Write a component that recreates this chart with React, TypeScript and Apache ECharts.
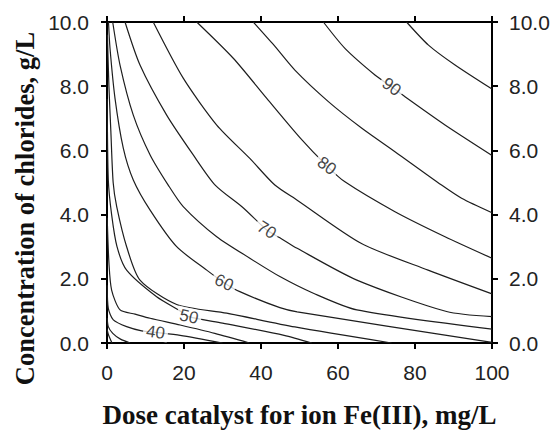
import React, { useEffect, useRef } from "react";
import * as echarts from "echarts";

// Contour lines (x = dose Fe(III) mg/L, y = chlorides g/L), one per level
const levels = [95, 90, 85, 80, 75, 70, 65, 60, 55, 50, 45, 40, 35, 30];
const c95 = [[77.8, 10], [83.5, 9.28], [90.4, 8.66], [100, 7.91]];
const c90 = [[56.2, 10], [61.8, 9.18], [69.6, 8.35], [73.9, 7.98], [77.4, 7.67], [87.8, 6.79], [100, 5.84]];
const c85 = [[38.0, 10], [43.2, 9.3], [48.8, 8.5], [57.5, 7.52], [66.2, 6.69], [74.8, 5.96], [86.9, 4.92], [92.1, 4.51], [100, 4.06]];
const c80 = [[23.3, 10], [32.8, 8.87], [41.5, 7.62], [50.1, 6.4], [57.1, 5.52], [61.8, 5.02], [74.8, 4.09], [87.8, 3.31], [100, 2.64]];
const c75 = [[12.0, 10], [19.8, 8.25], [28.5, 6.79], [37.1, 5.75], [43.6, 4.92], [49.4, 4.45], [66.1, 3.1], [83.4, 2.27], [100, 1.53]];
const c70 = [[4.68, 10], [8.57, 8.66], [15.5, 7.1], [22.4, 5.86], [28.1, 4.92], [35.5, 4.2], [41.5, 3.52], [44.9, 3.28], [49.4, 2.95], [64.9, 1.96], [88.2, 0.98], [100, 0.82]];
const c65 = [[1.48, 10], [3.38, 8.66], [6.83, 7.1], [11.2, 5.86], [15.9, 4.92], [19.8, 4.25], [28.5, 3.31], [37.1, 2.64], [44.9, 2.07], [53.6, 1.55], [64.9, 1.03], [100, 0.43]];
const c60 = [[0.39, 10], [0.78, 9.18], [2.08, 7.62], [4.23, 6.07], [6.83, 5.08], [11.2, 4.14], [18.1, 3.0], [25.9, 2.27], [30.4, 1.88], [34.5, 1.6], [44.9, 1.1], [49.4, 0.97], [100, 0.02]];
const c55 = [[0.1, 9.6], [0.5, 8.0], [1.0, 6.6], [1.6, 5.0], [2.52, 4.25], [5.1, 3.0], [8.57, 1.96], [18.1, 1.2], [31.1, 0.93], [48.8, 0.5], [73.9, 0]];
const c50 = [[0.05, 7.6], [0.34, 5.08], [1.2, 4.0], [2.6, 3.0], [5.1, 2.27], [12.9, 1.44], [19.0, 1.0], [21.3, 0.82], [30, 0.62], [46, 0.24], [53.2, 0]];
const c45 = [[0.05, 3.9], [0.5, 2.5], [1.2, 1.65], [3.4, 1.03], [7.3, 0.9], [11.2, 0.77], [19, 0.56], [28, 0.3], [37, 0]];
const c40 = [[0.05, 1.8], [0.34, 1.08], [1.64, 0.72], [5.1, 0.51], [9, 0.38], [12.6, 0.33], [19, 0.24], [30, 0]];
const c35 = [[0.05, 0.78], [0.34, 0.51], [1.5, 0.3], [3.5, 0.12], [6, 0]];
const c30 = [[0.05, 0.42], [0.4, 0.25], [1.3, 0]];
const contours = [c95, c90, c85, c80, c75, c70, c65, c60, c55, c50, c45, c40, c35, c30];

// Contour labels
const labelTexts = ["90", "80", "70", "60", "50", "40"];
const labelX = [73.9, 57.1, 41.5, 30.4, 21.3, 12.6];
const labelY = [7.98, 5.52, 3.52, 1.88, 0.82, 0.33];

// Axis ticks
const xTicks = [0, 20, 40, 60, 80, 100];
const yTicks = [0, 2, 4, 6, 8, 10];

const labelRotate = [-36, -36, -33, -24, -13, -8];

export default function App() {
  const ref = useRef<HTMLDivElement>(null);
  useEffect(() => {
    const chart = echarts.init(ref.current!, null, { renderer: "svg" });
    const axisLineStyle = { color: "#000", width: 2 };
    const tickFont = { fontFamily: "Liberation Sans", fontSize: 21, color: "#222" };
    const tickStyle = { show: true, inside: false, length: 6, lineStyle: { color: "#000", width: 2 } };
    const xAxisBase = {
      type: "value" as const,
      min: xTicks[0],
      max: xTicks[xTicks.length - 1],
      interval: xTicks[1] - xTicks[0],
      splitLine: { show: false },
      axisLine: { show: true, onZero: false, lineStyle: axisLineStyle },
      axisTick: tickStyle,
    };
    const yAxisBase = {
      type: "value" as const,
      min: yTicks[0],
      max: yTicks[yTicks.length - 1],
      interval: yTicks[1] - yTicks[0],
      splitLine: { show: false },
      axisLine: { show: true, onZero: false, lineStyle: axisLineStyle },
      axisTick: tickStyle,
    };
    const lineSeries = contours.map((pts, i) => ({
      type: "line" as const,
      name: String(levels[i]),
      data: pts,
      showSymbol: false,
      symbol: "none",
      smooth: 0.25,
      lineStyle: { color: "#1e1e1e", width: 1.2 },
      z: 2,
      silent: true,
    }));
    const labelSeries = labelTexts.map((t, i) => ({
      type: "scatter" as const,
      data: [[labelX[i], labelY[i]]],
      symbolSize: 0,
      z: 5,
      silent: true,
      label: {
        show: true,
        position: "inside" as const,
        formatter: t,
        rotate: labelRotate[i],
        fontFamily: "Liberation Sans",
        fontSize: 17,
        color: "#111",
        backgroundColor: "#fff",
        padding: [0, 3],
      },
    }));
    chart.setOption({
      animation: false,
      backgroundColor: "#fff",
      grid: { left: 107, right: 63, top: 22, bottom: 89, containLabel: false },
      xAxis: [
        {
          ...xAxisBase,
          position: "bottom",
          axisLabel: { ...tickFont, margin: 19 },
        },
        {
          ...xAxisBase,
          position: "top",
          axisLabel: { show: false },
        },
      ],
      yAxis: [
        {
          ...yAxisBase,
          position: "left",
          axisLabel: { ...tickFont, margin: 18, formatter: (v: number) => v.toFixed(1) },
        },
        {
          ...yAxisBase,
          position: "right",
          axisLabel: { ...tickFont, margin: 17, formatter: (v: number) => v.toFixed(1) },
        },
      ],
      graphic: [
        {
          type: "text",
          x: 299.5,
          y: 415,
          style: {
            text: "Dose catalyst for ion Fe(III), mg/L",
            fontFamily: "Liberation Serif",
            fontWeight: "bold",
            fontSize: 27,
            fill: "#111",
            textAlign: "center",
            textVerticalAlign: "middle",
          },
        },
        {
          type: "text",
          x: 25,
          y: 208.5,
          rotation: Math.PI / 2,
          style: {
            text: "Concentration of chlorides, g/L",
            fontFamily: "Liberation Serif",
            fontWeight: "bold",
            fontSize: 26.5,
            fill: "#111",
            textAlign: "center",
            textVerticalAlign: "middle",
          },
        },
      ],
      series: [...lineSeries, ...labelSeries],
    });
    return () => chart.dispose();
  }, []);
  return (
    <div
      ref={ref}
      style={{ position: "fixed", left: 0, top: 0, width: 555, height: 432, background: "#fff" }}
    />
  );
}
